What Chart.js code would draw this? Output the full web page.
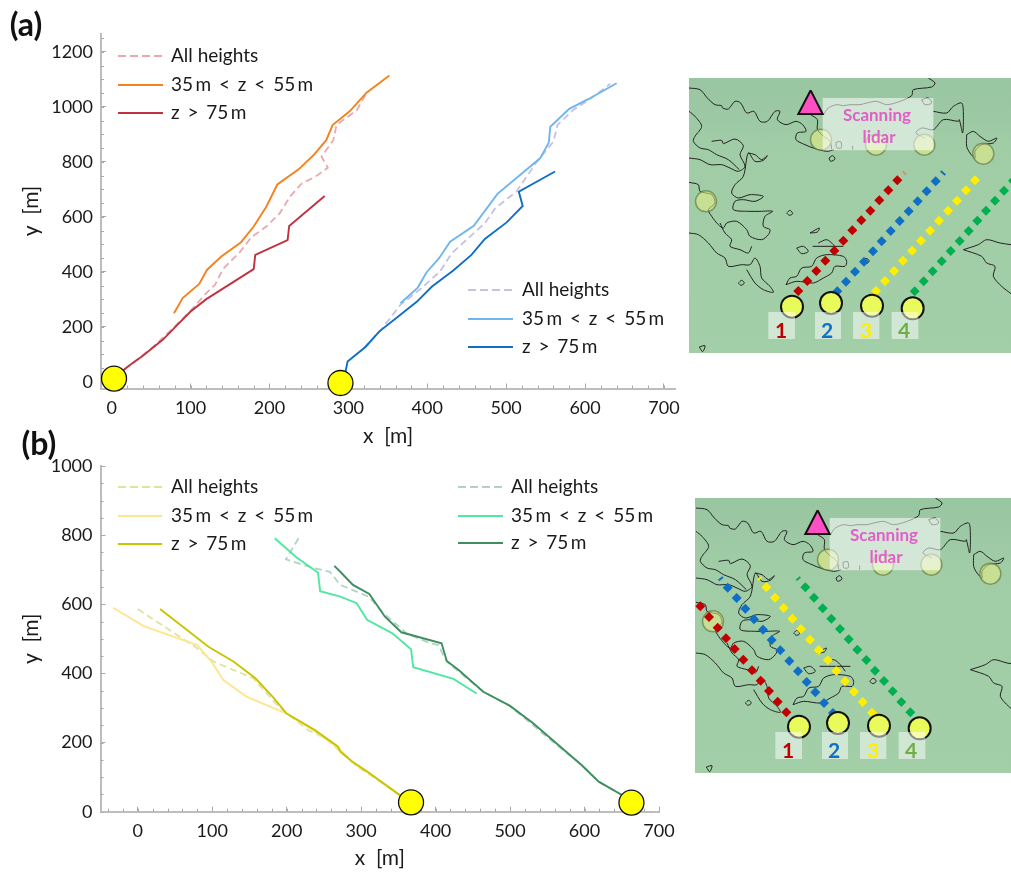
<!DOCTYPE html>
<html>
<head>
<meta charset="utf-8">
<title>Trajectories</title>
<script src="https://cdn.jsdelivr.net/npm/chart.js@4/dist/chart.umd.min.js"></script>
<style>
    html, body { margin: 0; padding: 0; background: #fff; }
    body { position: relative; width: 1011px; height: 873px; overflow: hidden; font-family: Lato, sans-serif; color: #1a1a1a; }
    canvas { position: absolute; }
    .txt { position: absolute; white-space: pre; line-height: 1; }
    .panel { font-size: 32px; font-weight: 700; color: #111; transform: translate(-50%, -50%); }
    .leg { font-size: 19px; }
    .mapTxt { transform: translate(-50%, -50%); font-weight: 700; }
    svg { position: absolute; overflow: visible; }
</style>
</head>
<body>
<canvas id="chartA" style="left:0;top:0" width="680" height="455"></canvas>
<canvas id="chartB" style="left:0;top:440px" width="680" height="433"></canvas>
<canvas id="mapA" style="left:689px;top:78px;background:linear-gradient(180deg,#98c6a0 0%,#a0cca6 25%,#a2cfa8 100%)" width="322" height="275"></canvas>
<canvas id="mapB" style="left:695px;top:498px;background:linear-gradient(180deg,#98c6a0 0%,#a0cca6 25%,#a2cfa8 100%)" width="316" height="275"></canvas>
<script>
// (a) x, y in metres
const a1All = [[5,20],[27,69],[53,129],[78,196],[101,262],[120,323],[131,353],[141,410],[163,474],[177,526],[196,565],[213,613],[226,674],[241,722],[258,746],[274,779],[266,819],[281,879],[285,934],[290,945],[311,989],[323,1050]];
const a1Low = [[79,250],[90,305],[111,356],[121,408],[139,456],[164,508],[180,565],[196,637],[210,718],[237,773],[256,825],[272,879],[280,934],[302,985],[323,1052],[352,1114]];
const a1High = [[5,20],[21,57],[40,96],[65,154],[82,204],[100,256],[120,301],[180,410],[182,462],[223,516],[225,567],[270,676]];
const a2All = [[319,122],[342,191],[366,280],[391,337],[416,401],[431,468],[459,541],[473,577],[486,631],[513,692],[539,801],[560,874],[565,934],[585,989],[606,1028],[632,1084]];
const a2Low = [[366,286],[388,343],[399,398],[415,450],[429,510],[459,568],[489,684],[543,813],[554,870],[556,928],[580,993],[604,1028],[640,1086]];
const a2High = [[296,31],[299,74],[322,128],[339,183],[366,244],[387,292],[406,347],[433,405],[456,462],[473,520],[501,581],[521,640],[516,692],[562,765]];
const aStarts = [[3,12],[290,-4]];

// (b)
const b3All = [[0,586],[77,477],[102,434],[155,386],[187,309],[200,284],[229,236],[252,212],[270,178],[292,135],[352,48],[367,27]];
const b3Low = [[-33,590],[8,537],[80,482],[99,434],[115,381],[146,333],[200,284],[238,233],[270,184],[288,143],[310,113],[350,50],[367,27]];
const b3High = [[30,586],[95,477],[129,434],[158,386],[181,333],[200,284],[238,236],[269,188],[272,174],[288,145],[308,116],[352,48],[367,27]];
const b4All = [[216,791],[199,730],[222,714],[238,704],[258,694],[272,656],[310,622],[330,574],[361,516],[393,487],[404,482],[411,449],[415,434],[464,347],[500,306],[549,217],[596,135],[619,87],[652,46],[663,27]];
const b4Low = [[184,791],[213,736],[242,692],[245,638],[272,622],[294,603],[308,555],[342,516],[367,470],[370,418],[424,384],[455,342]];
const b4High = [[264,711],[272,694],[289,656],[311,630],[332,564],[354,519],[408,487],[415,436],[431,410],[464,347],[500,306],[531,256],[596,135],[619,87],[652,46],[663,27]];
const bStarts = [[367,27],[663,26]];

const xTicksA = [0,100,200,300,400,500,600,700];
const yTicksA = [0,200,400,600,800,1000,1200];
const xTicksB = [0,100,200,300,400,500,600,700];
const yTicksB = [0,200,400,600,800,1000];
const legendLabels = ['All heights', '35\u2009m < z < 55\u2009m', 'z > 75\u2009m'];

// map overlay, in coordinates of the left/top of the photo crop
const coast = [
    [[27,55],[60,60],[82,85],[105,105],[125,108],[128,115],[145,118],[165,95],[182,100],[200,130],[222,125],[240,155],[262,155],[285,125],[300,125],[292,150],[318,165],[348,155],[368,165],[378,185],[352,190],[348,210],[375,225],[400,235],[440,245],[462,240]],
    [[392,135],[412,150],[412,178],[425,195],[450,215],[455,238]],
    [[447,265],[458,258],[465,268],[452,275],[447,265]],
    [[745,25],[765,40],[755,52],[700,60],[695,78],[660,95],[620,105],[590,95],[560,100],[540,105],[510,105],[490,108],[470,105],[445,115],[430,135]],
    [[725,90],[745,85],[755,100],[735,105],[725,90]],
    [[760,125],[800,130],[820,110],[845,100],[850,130],[848,190],[838,150],[835,155],[790,150],[760,180],[725,175],[708,190],[735,205]],
    [[860,195],[880,185],[900,200],[925,215],[950,205],[940,220],[905,225],[885,245],[885,265],[870,250],[860,230],[860,195]],
    [[27,125],[45,140],[65,170],[45,200],[40,215],[60,235],[85,240],[110,255],[145,270],[178,300]],
    [[95,215],[125,212],[130,222],[165,208],[190,228],[180,255],[195,290],[175,305],[150,295],[125,285],[90,285],[60,270],[27,265]],
    [[205,250],[225,255],[245,270],[262,258],[250,272],[225,275],[205,250],[190,320],[165,345],[155,370],[175,385],[210,375],[250,380],[225,395],[190,390],[165,395],[160,420],[205,425],[240,425],[278,425],[255,440],[250,470],[270,480],[265,495],[245,510],[210,500],[200,480],[170,455],[140,460],[130,475],[115,465],[95,440],[85,420],[105,400],[95,375],[60,365],[55,345],[27,338]],
    [[27,490],[55,495],[85,520],[110,550],[135,565],[145,590],[185,585],[210,585],[225,565],[240,590],[245,625],[270,650],[280,668],[250,660],[225,640],[200,600]],
    [[120,460],[135,490],[155,510],[150,530],[180,540],[205,550],[215,530]],
    [[318,645],[330,625],[350,620],[365,595],[395,590],[410,565],[440,555],[490,560],[500,575],[495,590],[465,590],[455,610],[430,625],[400,640],[350,635],[318,645]],
    [[350,535],[370,530],[385,545],[365,552],[350,535]],
    [[398,530],[490,530]],
    [[415,520],[440,510],[460,525],[475,545]],
    [[390,490],[418,475],[412,487],[390,490]],
    [[320,430],[330,422],[338,432],[328,437],[320,430]],
    [[175,640],[185,632],[193,640],[183,647],[175,640]],
    [[548,575],[558,566],[568,574],[558,582],[548,575]],
    [[850,540],[895,525],[920,510],[960,520],[993,525]],
    [[850,540],[905,560],[920,580],[945,590],[940,620],[965,650],[993,672]],
    [[58,832],[75,828],[68,846],[58,832]],
    [[468,218],[482,216],[484,234],[470,234],[468,218]],
    [[518,228],[518,240]]
];
const turbines = [[423,210],[588,225],[733,225],[910,252],[78,395]];
const sites = [[336,711],[453,700],[576,708],[698,716]];
const lidarMark = [[392,62],[428,133],[355,133],[392,62]];
const lidarBox = [[428,85],[760,85],[760,242],[428,242],[428,85]];
const numberBoxes = [
    [[265,727],[345,727],[345,808],[265,808],[265,727]],
    [[405,727],[483,727],[483,808],[405,808],[405,727]],
    [[519,727],[598,727],[598,808],[519,808],[519,727]],
    [[635,727],[715,727],[715,808],[635,808],[635,727]]
];

const scanA1 = [[355,664],[382,634],[409,604],[436,573],[463,543],[490,513],[517,482],[544,452],[571,423],[598,392],[625,362],[652,332]];
const scanA2 = [[472,665],[498,636],[525,606],[552,576],[579,545],[605,515],[632,484],[659,454],[686,425],[713,395],[740,365],[767,335]];
const scanA3 = [[588,664],[615,634],[642,604],[669,573],[696,543],[723,513],[750,483],[777,453],[804,423],[831,393],[858,362],[885,332]];
const scanA4 = [[704,665],[731,635],[758,605],[785,575],[812,544],[839,514],[866,484],[892,453],[918,423],[945,393],[972,363],[999,333]];
const scanB1 = [[298,668],[272,636],[246,604],[221,573],[195,542],[169,510],[143,478],[117,446],[92,414],[66,382],[40,350]];
const scanB2 = [[438,670],[411,640],[385,608],[359,577],[333,545],[307,514],[280,482],[254,451],[228,420],[201,389],[175,357],[149,325],[122,294]];
const scanB3 = [[555,669],[527,637],[501,606],[474,575],[448,544],[422,512],[395,481],[369,450],[342,418],[316,387],[290,355],[264,324],[238,293]];
const scanB4 = [[670,668],[643,637],[617,605],[591,574],[564,543],[538,511],[511,480],[485,449],[459,418],[433,387],[407,356],[381,324],[355,293]];
const tailsA = [[[668,305],[678,315],'#d98a70'],[[782,304],[796,316],'#0f6fc6']];
const tailsB = [[[95,272],[108,262],'#0f6fc6'],[[212,272],[224,262],'#ffee00'],[[328,272],[340,262],'#00b050']];

const RED = '#c00000', BLUE = '#0f6fc6', YEL = '#ffee00', GRN = '#00b050';
const pts = a => a.map(([x, y]) => ({ x, y }));

const minorTicks = {
    id: 'minorTicks',
    beforeDatasetsDraw(chart, args, opts) {
        const { ctx, scales: { x, y } } = chart;
        ctx.save();
        ctx.strokeStyle = '#a8a8a8';
        ctx.lineWidth = 1;
        ctx.beginPath();
        for (let v = -40; v <= x.max; v += 20) {
            if (v < x.min) continue;
            const px = Math.round(x.getPixelForValue(v)) + 0.5;
            ctx.moveTo(px, x.top); ctx.lineTo(px, x.top - 3);
        }
        for (let v = 0; v <= y.max; v += 50) {
            const py = Math.round(y.getPixelForValue(v)) + 0.5;
            ctx.moveTo(y.right, py); ctx.lineTo(y.right + 3, py);
        }
        ctx.stroke();
        ctx.restore();
    }
};

function lineSet(data, color, dashed) {
    return {
        data: pts(data), showLine: true, borderColor: color, borderWidth: dashed ? 1.8 : 1.9,
        borderDash: dashed ? [7, 4] : [], pointRadius: 0, tension: 0, fill: false
    };
}

function startSet(data) {
    return {
        data: pts(data), showLine: false, clip: false, pointRadius: 12.5, pointHoverRadius: 12.5,
        backgroundColor: '#ffff00', borderColor: '#111', borderWidth: 1.3
    };
}

function plotChart(id, datasets, cfg) {
    const axisBase = { border: { color: '#bdbdbd', width: 2 } };
    return new Chart(document.getElementById(id), {
        type: 'scatter',
        data: { datasets },
        plugins: [minorTicks],
        options: {
            responsive: false, animation: false, events: [],
            layout: { autoPadding: false, padding: { top: cfg.top, right: cfg.right, left: 0, bottom: 0 } },
            plugins: { legend: { display: false }, tooltip: { enabled: false } },
            scales: {
                x: {
                    ...axisBase, min: cfg.xMin, max: cfg.xMax,
                    grid: { drawOnChartArea: false, tickLength: -5, tickColor: '#a8a8a8' },
                    ticks: { padding: 14, maxRotation: 0, autoSkip: false, color: '#1a1a1a', font: { family: 'Lato', size: 18 }, callback: v => String(v) },
                    title: { display: true, text: 'x  [m]', color: '#1a1a1a', font: { family: 'Lato', size: 21 }, padding: { top: 0, bottom: cfg.xTitlePad } },
                    afterBuildTicks: s => { s.ticks = cfg.xTicks.map(value => ({ value })); },
                    afterFit: s => { s.height = cfg.xHeight; s.paddingLeft = 0; s.paddingRight = 0; }
                },
                y: {
                    ...axisBase, min: cfg.yMin, max: cfg.yMax,
                    grid: { drawOnChartArea: false, tickLength: -5, tickColor: '#a8a8a8' },
                    ticks: { padding: 13, autoSkip: false, color: '#1a1a1a', font: { family: 'Lato', size: 18 }, callback: v => String(v) },
                    title: { display: true, text: 'y  [m]', color: '#1a1a1a', font: { family: 'Lato', size: 21 }, padding: { top: 19, bottom: 0 } },
                    afterBuildTicks: s => { s.ticks = cfg.yTicks.map(value => ({ value })); },
                    afterFit: s => { s.width = cfg.yWidth; s.paddingTop = 0; s.paddingBottom = 0; }
                }
            }
        }
    });
}

plotChart('chartA', [
    startSet(aStarts),
    lineSet(a1High, '#c0323f'), lineSet(a1Low, '#f58220'), lineSet(a1All, '#e8a9b0', true),
    lineSet(a2High, '#0f6fc6'), lineSet(a2Low, '#6fb5ee'), lineSet(a2All, '#c5c0e6', true)
], { top: 33.5, right: 5, xMin: -13.5, xMax: 714, yMin: -24, yMax: 1267, xTicks: xTicksA, yTicks: yTicksA, xHeight: 66.5, yWidth: 101, xTitlePad: 6 });

plotChart('chartB', [
    startSet(bStarts),
    lineSet(b3High, '#c8c400'), lineSet(b3Low, '#fde68f'), lineSet(b3All, '#dfe3a0', true),
    lineSet(b4High, '#3e8e62'), lineSet(b4Low, '#4fe8a0'), lineSet(b4All, '#b0d4bf', true)
], { top: 26, right: 21, xMin: -50, xMax: 700, yMin: 0, yMax: 1000, xTicks: xTicksB, yTicks: yTicksB, xHeight: 61.3, yWidth: 100.5, xTitlePad: 2 });

function mapChart(id, xMin, xMax, scans, tails) {
    const sets = [];
    sets.push({ data: pts(lidarMark), showLine: true, fill: 'shape', backgroundColor: '#ff4fc3', borderColor: '#111', borderWidth: 2, pointRadius: 0 });
    sets.push({ data: pts(lidarBox), showLine: true, fill: 'shape', backgroundColor: 'rgba(255,255,255,0.55)', borderWidth: 0, pointRadius: 0 });
    numberBoxes.forEach(b => sets.push({ data: pts(b), showLine: true, fill: 'shape', backgroundColor: 'rgba(255,255,255,0.5)', borderWidth: 0, pointRadius: 0 }));
    sets.push({ data: pts(sites), showLine: false, pointRadius: 11, backgroundColor: '#e8fb5b', borderColor: '#111', borderWidth: 2 });
    [RED, BLUE, YEL, GRN].forEach((c, i) => sets.push({ data: pts(scans[i]), showLine: false, pointStyle: 'rectRot', pointRadius: 5, backgroundColor: c, borderWidth: 0 }));
    tails.forEach(t => sets.push({ data: pts([t[0], t[1]]), showLine: true, borderColor: t[2], borderWidth: 2, pointRadius: 0 }));
    sets.push({ data: pts(turbines), showLine: false, pointRadius: 10.5, backgroundColor: 'rgba(232,238,130,0.55)', borderColor: 'rgba(100,125,70,0.7)', borderWidth: 1.5 });
    coast.forEach(c => sets.push({ data: pts(c), showLine: true, tension: 0.3, borderColor: '#222', borderWidth: 1, pointRadius: 0 }));
    return new Chart(document.getElementById(id), {
        type: 'scatter',
        data: { datasets: sets },
        options: {
            responsive: false, animation: false, events: [],
            layout: { autoPadding: false, padding: 0 },
            plugins: { legend: { display: false }, tooltip: { enabled: false } },
            scales: {
                x: { display: false, min: xMin, max: xMax },
                y: { display: false, min: 25, max: 850, reverse: true }
            }
        }
    });
}

mapChart('mapA', 27, 993, [scanA1, scanA2, scanA3, scanA4], tailsA);
mapChart('mapB', 24, 972, [scanB1, scanB2, scanB3, scanB4], tailsB);

// page texts
function addText(text, left, top, cls, style) {
    const d = document.createElement('div');
    d.className = 'txt ' + cls;
    d.textContent = text;
    d.style.left = left + 'px';
    d.style.top = top + 'px';
    if (style) Object.assign(d.style, style);
    document.body.appendChild(d);
}

function addLegend(x1, x2, textX, rows, colors) {
    const ns = 'http://www.w3.org/2000/svg';
    rows.forEach((y, i) => {
        const svg = document.createElementNS(ns, 'svg');
        svg.setAttribute('width', 1011); svg.setAttribute('height', 873);
        svg.style.left = 0; svg.style.top = 0;
        const l = document.createElementNS(ns, 'line');
        l.setAttribute('x1', x1); l.setAttribute('x2', x2); l.setAttribute('y1', y); l.setAttribute('y2', y);
        l.setAttribute('stroke', colors[i]); l.setAttribute('stroke-width', i ? 1.9 : 1.8);
        if (!i) l.setAttribute('stroke-dasharray', '8 4');
        svg.appendChild(l);
        document.body.appendChild(svg);
        addText(legendLabels[i], textX, y - 11, 'leg', i ? { wordSpacing: '3px' } : {});
    });
}

addLegend(118, 163, 171, [56, 85, 113], ['#e8a9b0', '#f58220', '#c0323f']);
addLegend(468, 513, 522, [290, 319, 347], ['#c5c0e6', '#6fb5ee', '#0f6fc6']);
addLegend(118, 162, 171, [487, 516, 544], ['#dfe3a0', '#fde68f', '#c8c400']);
addLegend(458, 503, 511, [487, 516, 543], ['#b0d4bf', '#4fe8a0', '#3e8e62']);

addText('(a)', 26, 24, 'panel');
addText('(b)', 39, 443, 'panel');

[[0, 0], [7, 420]].forEach(([dx, dy]) => {
    const pink = { fontSize: '17px', color: '#e060c8' };
    addText('Scanning', 877 + dx, 114 + dy, 'mapTxt', pink);
    addText('lidar', 879 + dx, 136 + dy, 'mapTxt', pink);
    const num = [['1', 781, RED], ['2', 827, BLUE], ['3', 866, YEL], ['4', 904, '#70ad47']];
    num.forEach(n => addText(n[0], n[1] + dx, 329 + dy, 'mapTxt', { fontSize: '21px', color: n[2] }));
});
</script>
</body>
</html>
